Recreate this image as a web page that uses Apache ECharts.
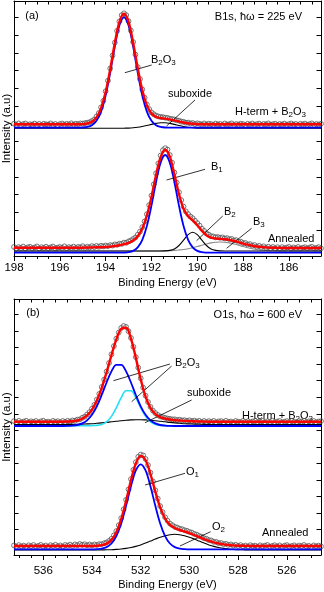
<!DOCTYPE html>
<html><head><meta charset="utf-8">
<script src="https://cdn.jsdelivr.net/npm/echarts@6/dist/echarts.min.js"></script>
<style>html,body{margin:0;padding:0;background:#fff}#c{width:324px;height:592px}</style>
</head><body><div id="c"></div>
<script>
// ---------- Panel (a): B1s, data grid (eV) ----------
const dataEA = [198.0,197.9,197.8,197.7,197.6,197.5,197.4,197.3,197.2,197.1,
197.0,196.9,196.8,196.7,196.6,196.5,196.4,196.3,196.2,196.1,
196.0,195.9,195.8,195.7,195.6,195.5,195.4,195.3,195.2,195.1,
195.0,194.9,194.8,194.7,194.6,194.5,194.4,194.3,194.2,194.1,
194.0,193.9,193.8,193.7,193.6,193.5,193.4,193.3,193.2,193.1,
193.0,192.9,192.8,192.7,192.6,192.5,192.4,192.3,192.2,192.1,
192.0,191.9,191.8,191.7,191.6,191.5,191.4,191.3,191.2,191.1,
191.0,190.9,190.8,190.7,190.6,190.5,190.4,190.3,190.2,190.1,
190.0,189.9,189.8,189.7,189.6,189.5,189.4,189.3,189.2,189.1,
189.0,188.9,188.8,188.7,188.6,188.5,188.4,188.3,188.2,188.1,
188.0,187.9,187.8,187.7,187.6,187.5,187.4,187.3,187.2,187.1,
187.0,186.9,186.8,186.7,186.6,186.5,186.4,186.3,186.2,186.1,
186.0,185.9,185.8,185.7,185.6,185.5,185.4,185.3,185.2,185.1,
185.0,184.9,184.8,184.7,184.6];
// H-term + B2O3 measured points
const aTopData = [132.3,131.2,132.6,131.0,131.9,132.5,130.9,131.8,131.4,132.4,
131.1,132.1,130.9,132.2,131.7,131.5,132.6,131.2,132.0,130.8,
131.9,132.5,131.3,132.2,131.6,132.7,131.4,132.3,131.8,132.6,
132.4,132.9,133.3,133.8,135.0,136.4,139.5,142.9,148.6,155.2,
164.8,175.3,187.6,200.5,213.4,225.1,234.6,240.8,242.7,240.9,
234.8,225.6,214.0,201.4,188.9,177.0,166.6,158.3,151.5,146.9,
143.6,141.8,140.4,139.6,139.0,138.9,138.3,138.1,137.3,137.0,
136.5,135.7,135.4,134.4,134.2,133.3,133.4,132.6,133.0,131.9,
132.7,132.2,131.5,132.6,131.4,132.3,131.9,131.2,132.4,131.6,
132.1,131.0,132.5,131.5,131.9,132.6,131.1,132.0,131.4,132.3,
131.8,130.9,132.2,131.6,132.5,131.2,131.9,132.4,131.0,132.1,
131.7,132.6,131.3,131.8,132.3,131.1,132.0,131.5,132.4,131.2,
131.9,132.5,131.4,132.1,130.9,132.2,131.6,132.4,131.3,131.8,
132.6,131.1,132.0,131.5,132.2];
// Annealed measured points
const aLowData = [9.1,7.4,8.9,8.0,9.4,7.6,8.7,9.2,7.8,8.5,
9.6,7.5,8.8,8.1,9.3,7.9,8.6,9.5,7.7,8.4,
9.0,8.2,9.7,7.8,8.9,8.3,9.4,8.0,9.1,8.6,
9.8,8.2,9.3,8.6,9.9,8.9,10.1,9.2,10.3,9.6,
10.5,9.8,10.9,10.4,11.6,11.2,12.3,12.1,13.4,13.2,
14.6,15.5,17.0,18.5,21.3,24.4,28.9,34.6,41.8,50.9,
60.4,71.6,82.7,92.6,100.5,105.9,107.8,106.4,101.0,93.3,
83.5,73.4,63.8,55.9,49.4,44.6,41.9,39.5,37.8,35.3,
32.9,30.4,27.3,25.1,22.6,21.4,19.8,19.6,18.7,19.0,
18.2,18.6,17.5,17.9,16.8,17.1,15.6,15.9,14.2,14.3,
12.9,13.0,11.5,11.9,10.4,11.0,9.3,10.2,8.8,9.7,
8.2,9.3,7.9,9.0,7.6,8.8,7.3,8.9,7.7,8.4,
9.1,7.5,8.6,7.9,9.0,7.4,8.3,8.8,7.6,8.5,
9.2,7.8,8.1,8.9,7.7];
// fit grid (eV)
const fitEA = [198.0,197.8,197.6,197.4,197.2,197.0,196.8,196.6,196.4,196.2,
196.0,195.8,195.6,195.4,195.2,195.0,194.8,194.6,194.4,194.2,
194.0,193.8,193.6,193.4,193.2,193.0,192.8,192.6,192.4,192.2,
192.0,191.8,191.6,191.4,191.2,191.0,190.8,190.6,190.4,190.2,
190.0,189.8,189.6,189.4,189.2,189.0,188.8,188.6,188.4,188.2,
188.0,187.8,187.6,187.4,187.2,187.0,186.8,186.6,186.4,186.2,
186.0,185.8,185.6,185.4,185.2,185.0,184.8,184.6];
const aTopFit = [131.7,131.7,131.7,131.7,131.7,131.7,131.7,131.7,131.7,131.7,
131.7,131.7,131.7,131.7,131.8,131.9,132.5,134.2,138.6,147.8,
163.9,186.9,212.8,233.9,242.2,234.1,213.3,187.9,165.7,150.6,
142.5,139.1,138.0,137.4,136.6,135.6,134.5,133.5,132.7,132.2,
131.9,131.8,131.7,131.7,131.7,131.7,131.7,131.7,131.7,131.7,
131.7,131.7,131.7,131.7,131.7,131.7,131.7,131.7,131.7,131.7,
131.7,131.7,131.7,131.7,131.7,131.7,131.7,131.7];
const aTopB2O3 = [128.3,128.3,128.3,128.3,128.3,128.3,128.3,128.3,128.3,128.3,
128.3,128.3,128.3,128.3,128.4,128.5,129.1,130.8,135.2,144.4,
160.5,183.5,209.4,230.5,238.7,230.5,209.4,183.5,160.5,144.4,
135.2,130.8,129.1,128.5,128.4,128.3,128.3,128.3,128.3,128.3,
128.3,128.3,128.3,128.3,128.3,128.3,128.3,128.3,128.3,128.3,
128.3,128.3,128.3,128.3,128.3,128.3,128.3,128.3,128.3,128.3,
128.3,128.3,128.3,128.3,128.3,128.3,128.3,128.3];
const aTopSub = [127.7,127.7,127.7,127.7,127.7,127.7,127.7,127.7,127.7,127.7,
127.7,127.7,127.7,127.7,127.7,127.7,127.7,127.7,127.7,127.7,
127.7,127.7,127.7,127.7,127.8,127.9,128.2,128.7,129.5,130.5,
131.6,132.6,133.2,133.2,132.6,131.6,130.5,129.5,128.7,128.2,
127.9,127.8,127.7,127.7,127.7,127.7,127.7,127.7,127.7,127.7,
127.7,127.7,127.7,127.7,127.7,127.7,127.7,127.7,127.7,127.7,
127.7,127.7,127.7,127.7,127.7,127.7,127.7,127.7];
const aLowFit = [8.3,8.3,8.3,8.3,8.3,8.3,8.3,8.3,8.3,8.3,
8.3,8.3,8.3,8.3,8.3,8.3,8.5,8.6,8.7,8.8,
9.0,9.4,10.0,10.8,11.8,13.2,15.5,19.8,27.5,40.5,
59.0,81.0,98.8,106.3,99.3,81.7,61.9,47.3,39.8,35.6,
30.8,25.3,20.8,18.3,17.5,17.2,16.8,16.1,15.0,13.8,
12.5,11.3,10.3,9.5,9.0,8.6,8.3,8.2,8.1,8.0,
8.0,8.0,8.0,8.0,8.0,8.0,8.0,8.0];
const aLowB1 = [3.3,3.3,3.3,3.3,3.3,3.3,3.3,3.3,3.3,3.3,
3.3,3.3,3.3,3.3,3.3,3.3,3.3,3.3,3.3,3.3,
3.3,3.3,3.3,3.3,3.4,3.8,5.1,8.6,16.2,30.0,
50.4,74.0,93.4,101.0,93.4,74.0,50.4,30.0,16.2,8.6,
5.1,3.8,3.4,3.3,3.3,3.3,3.3,3.3,3.3,3.3,
3.3,3.3,3.3,3.3,3.3,3.3,3.3,3.3,3.3,3.3,
3.3,3.3,3.3,3.3,3.3,3.3,3.3,3.3];
const aLowB2 = [5.0,5.0,5.0,5.0,5.0,5.0,5.0,5.0,5.0,5.0,
5.0,5.0,5.0,5.0,5.0,5.0,5.0,5.0,5.0,5.0,
5.0,5.0,5.0,5.0,5.0,5.0,5.0,5.0,5.0,5.0,
5.0,5.0,5.0,5.1,5.6,7.1,10.5,15.8,21.3,23.7,
21.3,15.8,10.5,7.1,5.6,5.1,5.0,5.0,5.0,5.0,
5.0,5.0,5.0,5.0,5.0,5.0,5.0,5.0,5.0,5.0,
5.0,5.0,5.0,5.0,5.0,5.0,5.0,5.0];
const aLowB3 = [5.0,5.0,5.0,5.0,5.0,5.0,5.0,5.0,5.0,5.0,
5.0,5.0,5.0,5.0,5.0,5.0,5.0,5.0,5.0,5.0,
5.0,5.0,5.0,5.0,5.0,5.0,5.0,5.0,5.0,5.0,
5.0,5.0,5.1,5.2,5.3,5.6,6.0,6.5,7.3,8.3,
9.5,10.8,12.0,13.1,13.8,14.0,13.8,13.1,12.0,10.8,
9.5,8.3,7.3,6.5,6.0,5.6,5.3,5.2,5.1,5.0,
5.0,5.0,5.0,5.0,5.0,5.0,5.0,5.0];

// ---------- Panel (b): O1s ----------
const dataEB = [537.2,537.1,537.0,536.9,536.8,536.7,536.6,536.5,536.4,536.3,
536.2,536.1,536.0,535.9,535.8,535.7,535.6,535.5,535.4,535.3,
535.2,535.1,535.0,534.9,534.8,534.7,534.6,534.5,534.4,534.3,
534.2,534.1,534.0,533.9,533.8,533.7,533.6,533.5,533.4,533.3,
533.2,533.1,533.0,532.9,532.8,532.7,532.6,532.5,532.4,532.3,
532.2,532.1,532.0,531.9,531.8,531.7,531.6,531.5,531.4,531.3,
531.2,531.1,531.0,530.9,530.8,530.7,530.6,530.5,530.4,530.3,
530.2,530.1,530.0,529.9,529.8,529.7,529.6,529.5,529.4,529.3,
529.2,529.1,529.0,528.9,528.8,528.7,528.6,528.5,528.4,528.3,
528.2,528.1,528.0,527.9,527.8,527.7,527.6,527.5,527.4,527.3,
527.2,527.1,527.0,526.9,526.8,526.7,526.6,526.5,526.4,526.3,
526.2,526.1,526.0,525.9,525.8,525.7,525.6,525.5,525.4,525.3,
525.2,525.1,525.0,524.9,524.8,524.7,524.6];
const bTopData = [133.9,132.8,134.1,132.6,133.5,134.2,132.7,133.7,133.1,134.0,
132.5,133.6,134.3,132.9,133.4,132.6,134.1,133.2,133.8,132.7,
134.0,133.1,134.2,133.4,134.6,134.3,135.4,135.6,137.2,138.3,
140.5,142.9,146.3,150.2,155.4,161.1,168.0,175.4,183.5,192.0,
200.7,208.9,216.4,222.5,227.0,229.0,228.1,223.8,217.1,208.2,
197.9,187.3,176.7,167.4,159.3,153.0,148.1,144.4,141.9,140.1,
138.6,137.9,137.2,136.5,136.2,135.6,135.7,135.0,135.3,134.6,
134.8,134.2,134.7,133.9,134.4,133.5,134.2,133.1,134.0,132.9,
133.9,133.2,134.1,132.7,133.6,133.9,132.8,134.2,133.0,133.5,
132.6,134.0,133.3,132.8,134.1,133.2,133.8,132.7,133.6,134.2,
132.9,133.4,134.0,132.6,133.7,133.1,134.3,132.8,133.5,134.0,
132.7,133.3,133.9,132.9,134.1,133.2,132.6,133.8,133.4,134.2,
132.8,133.6,133.1,134.0,132.7,133.5,133.9];
const bLowData = [9.6,8.3,9.9,8.6,9.4,8.1,9.7,8.8,10.0,8.4,
9.2,10.1,8.5,9.5,8.2,9.8,9.0,10.2,8.7,9.6,
8.4,10.0,9.3,10.4,9.1,10.6,9.8,11.0,10.2,10.8,
9.7,10.5,9.6,10.6,10.0,10.9,10.8,11.8,12.5,14.1,
16.2,19.6,23.9,29.8,36.9,45.7,55.2,65.6,75.9,85.2,
92.8,98.2,100.4,99.6,96.0,89.9,82.3,73.6,64.7,56.4,
48.9,42.9,37.8,34.3,31.4,29.8,28.2,27.4,26.3,25.8,
24.8,24.2,23.0,22.4,21.1,20.4,19.0,18.3,16.8,16.2,
14.9,14.5,13.2,13.1,11.9,12.0,10.8,11.2,10.1,10.6,
9.5,10.2,9.1,9.9,8.6,9.5,8.4,9.8,8.9,9.3,
8.2,9.7,8.6,9.4,10.0,8.3,9.1,9.8,8.5,9.6,
8.1,9.3,9.9,8.4,9.0,9.7,8.3,9.5,8.8,10.0,
8.6,9.2,8.0,9.6,8.7,9.4,8.5];
const fitEB = [537.2,537.0,536.8,536.6,536.4,536.2,536.0,535.8,535.6,535.4,
535.2,535.0,534.8,534.6,534.4,534.2,534.0,533.8,533.6,533.4,
533.2,533.0,532.8,532.6,532.4,532.2,532.0,531.8,531.6,531.4,
531.2,531.0,530.8,530.6,530.4,530.2,530.0,529.8,529.6,529.4,
529.2,529.0,528.8,528.6,528.4,528.2,528.0,527.8,527.6,527.4,
527.2,527.0,526.8,526.6,526.4,526.2,526.0,525.8,525.6,525.4,
525.2,525.0,524.8,524.6];
const bTopFit = [133.3,133.3,133.3,133.3,133.3,133.3,133.3,133.3,133.3,133.3,
133.3,133.5,133.8,134.5,136.3,139.6,145.4,154.5,167.2,182.7,
199.9,215.6,226.2,227.2,216.4,197.1,175.8,158.4,147.1,141.0,
137.8,136.5,135.5,134.9,134.5,134.1,133.9,133.7,133.5,133.4,
133.3,133.3,133.3,133.3,133.3,133.3,133.3,133.3,133.3,133.3,
133.3,133.3,133.3,133.3,133.3,133.3,133.3,133.3,133.3,133.3,
133.3,133.3,133.3,133.3];
const bTopB2O3a = [129.0,129.0,129.0,129.0,129.0,129.0,129.0,129.0,129.0,129.0,
129.0,129.1,129.4,130.0,131.6,134.7,140.2,148.7,160.0,172.5,
183.6,190.1,190.1,183.6,172.5,160.0,148.7,140.2,134.7,131.6,
130.0,129.4,129.1,129.0,129.0,129.0,129.0,129.0,129.0,129.0,
129.0,129.0,129.0,129.0,129.0,129.0,129.0,129.0,129.0,129.0,
129.0,129.0,129.0,129.0,129.0,129.0,129.0,129.0,129.0,129.0,
129.0,129.0,129.0,129.0];
const bTopB2O3b = [129.3,129.3,129.3,129.3,129.3,129.3,129.3,129.3,129.3,129.3,
129.3,129.3,129.3,129.3,129.3,129.3,129.4,129.6,130.6,133.1,
138.6,147.3,157.3,164.3,164.3,157.3,147.3,138.6,133.1,130.6,
129.6,129.4,129.3,129.3,129.3,129.3,129.3,129.3,129.3,129.3,
129.3,129.3,129.3,129.3,129.3,129.3,129.3,129.3,129.3,129.3,
129.3,129.3,129.3,129.3,129.3,129.3,129.3,129.3,129.3,129.3,
129.3,129.3,129.3,129.3];
const bTopSub = [130.5,130.5,130.5,130.5,130.5,130.5,130.5,130.5,130.5,130.5,
130.5,130.6,130.6,130.7,130.9,131.1,131.3,131.7,132.1,132.6,
133.2,133.7,134.3,134.8,135.1,135.3,135.3,135.1,134.8,134.3,
133.7,133.2,132.6,132.1,131.7,131.3,131.1,130.9,130.7,130.6,
130.6,130.5,130.5,130.5,130.5,130.5,130.5,130.5,130.5,130.5,
130.5,130.5,130.5,130.5,130.5,130.5,130.5,130.5,130.5,130.5,
130.5,130.5,130.5,130.5];
const bLowFit = [9.0,9.0,9.0,9.0,9.0,9.0,9.0,9.0,9.0,9.0,
9.0,9.0,9.0,9.0,9.0,9.0,9.0,9.2,9.8,11.4,
15.1,22.8,35.8,54.1,74.6,91.5,99.1,94.8,81.0,63.4,
47.6,36.5,30.1,26.9,25.0,23.5,21.8,19.9,17.9,15.9,
14.1,12.6,11.5,10.6,10.0,9.6,9.3,9.2,9.1,9.0,
9.0,9.0,9.0,9.0,9.0,9.0,9.0,9.0,9.0,9.0,
9.0,9.0,9.0,9.0];
const bLowO1 = [5.7,5.7,5.7,5.7,5.7,5.7,5.7,5.7,5.7,5.7,
5.7,5.7,5.7,5.7,5.7,5.7,5.7,5.9,6.4,7.9,
11.5,18.9,31.5,49.2,68.8,84.6,90.7,84.6,68.8,49.2,
31.5,18.9,11.5,7.9,6.4,5.9,5.7,5.7,5.7,5.7,
5.7,5.7,5.7,5.7,5.7,5.7,5.7,5.7,5.7,5.7,
5.7,5.7,5.7,5.7,5.7,5.7,5.7,5.7,5.7,5.7,
5.7,5.7,5.7,5.7];
const bLowO2 = [5.0,5.0,5.0,5.0,5.0,5.0,5.0,5.0,5.0,5.0,
5.0,5.0,5.0,5.0,5.0,5.0,5.0,5.0,5.1,5.2,
5.3,5.6,6.0,6.6,7.5,8.6,10.1,11.9,13.9,15.9,
17.8,19.3,20.3,20.7,20.3,19.3,17.8,15.9,13.9,11.9,
10.1,8.6,7.5,6.6,6.0,5.6,5.3,5.2,5.1,5.0,
5.0,5.0,5.0,5.0,5.0,5.0,5.0,5.0,5.0,5.0,
5.0,5.0,5.0,5.0];

// ---------- tick values ----------
const xMajorA = [198,196,194,192,190,188,186];
const xMinorA = [198,197.5,197,196.5,196,195.5,195,194.5,194,193.5,193,192.5,192,191.5,191,190.5,190,189.5,189,188.5,188,187.5,187,186.5,186,185.5,185];
const xMajorB = [536,534,532,530,528,526];
const xMinorB = [537,536.5,536,535.5,535,534.5,534,533.5,533,532.5,532,531.5,531,530.5,530,529.5,529,528.5,528,527.5,527,526.5,526,525.5,525];
const yTicksA = [8.2,25.9,43.7,61.4,79.1,96.9,114.6,132.3,150.0,167.8,185.5,203.2,221.0,238.7];
const yTicksB = [8.8,25.4,41.9,58.5,75.0,91.6,108.1,124.7,141.2,157.8,174.3,190.9,207.4,224.0,240.5];

const FONT = '"Liberation Sans", Arial, Helvetica, sans-serif';
const pair = (xs, ys) => xs.map((x, i) => [x, ys[i]]);

function xAxes(g, min, max, major, minor, margin, nameGap) {
  return [
    {type:'value', gridIndex:g, min:min, max:max, inverse:true, position:'bottom',
     axisLine:{show:true, onZero:false, lineStyle:{color:'#000', width:1}},
     axisTick:{show:true, inside:false, length:5, customValues:major, lineStyle:{color:'#000', width:1}},
     axisLabel:{show:true, customValues:major, margin:margin, fontSize:11.5, color:'#000', fontFamily:FONT},
     splitLine:{show:false},
     name:'Binding Energy (eV)', nameLocation:'middle', nameGap:nameGap,
     nameTextStyle:{fontSize:11, color:'#000', fontFamily:FONT}},
    {type:'value', gridIndex:g, min:min, max:max, inverse:true, position:'bottom',
     axisLine:{show:false, onZero:false},
     axisTick:{show:true, inside:false, length:3, customValues:minor, lineStyle:{color:'#000', width:1}},
     axisLabel:{show:false}, splitLine:{show:false}},
    {type:'value', gridIndex:g, min:min, max:max, inverse:true, position:'top',
     axisLine:{show:true, onZero:false, lineStyle:{color:'#000', width:1}},
     axisTick:{show:true, inside:true, length:3.5, customValues:minor, lineStyle:{color:'#000', width:1}},
     axisLabel:{show:false}, splitLine:{show:false}}
  ];
}
function yAxes(g, max, ticks) {
  const base = (pos) => ({type:'value', gridIndex:g, min:0, max:max, position:pos,
     axisLine:{show:true, onZero:false, lineStyle:{color:'#000', width:1}},
     axisTick:{show:true, inside:true, length:4.5, customValues:ticks, lineStyle:{color:'#000', width:1}},
     axisLabel:{show:false}, splitLine:{show:false}});
  return [base('left'), base('right')];
}
function dots(xi, yi, xs, ys, leaders) {
  return {type:'scatter', xAxisIndex:xi, yAxisIndex:yi, data:pair(xs, ys), symbol:'circle', symbolSize:4.8,
    itemStyle:{color:'rgba(255,255,255,0)', borderColor:'#555555', borderWidth:1}, z:2, silent:true,
    markLine:{silent:true, symbol:['none','none'], label:{show:false}, animation:false,
      lineStyle:{color:'#000', width:0.8, type:'solid'},
      emphasis:{disabled:true},
      data:leaders.map(l => [{coord:l[0]}, {coord:l[1]}])}};
}
function curve(xi, yi, xs, ys, color, width, z) {
  return {type:'line', xAxisIndex:xi, yAxisIndex:yi, data:pair(xs, ys), showSymbol:false, symbol:'none',
    smooth:0.35, lineStyle:{color:color, width:width}, z:z, silent:true};
}
const RED = '#ff0000', BLUE = '#0000ff', CYAN = '#22e0f5', BLK = '#000000', GRAY = '#8a8a8a';

function txt(x, y, text, align) {
  return {type:'text', x:x, y:y, silent:true, style:{text:text, fontSize:11, fontFamily:FONT, fill:'#000',
    align:align || 'left', verticalAlign:'middle', lineHeight:14,
    rich:{s:{fontSize:8, fontFamily:FONT, lineHeight:8, verticalAlign:'bottom', fill:'#000'}}}};
}

const option = {
  animation:false,
  backgroundColor:'#ffffff',
  textStyle:{fontFamily:FONT},
  grid:[{left:14, top:1, width:307, height:255}, {left:14, top:299, width:307, height:256}],
  xAxis:[].concat(xAxes(0, 184.6, 198, xMajorA, xMinorA, 6, 21), xAxes(1, 524.6, 537.2, xMajorB, xMinorB, 10, 24)),
  yAxis:[].concat(yAxes(0, 255, yTicksA), yAxes(1, 256, yTicksB)),
  series:[
    // panel (a)
    dots(0, 0, dataEA, aTopData, [
      [[193.16,183.3],[191.99,191]],
      [[191.34,130],[190.1,156]]]),
    dots(0, 0, dataEA, aLowData, [
      [[191.34,76],[189.66,86.7]],
      [[190.03,15.3],[188.89,40]],
      [[188.72,7.7],[187.63,27.7]]]),
    curve(0, 0, fitEA, aTopSub, BLK, 1.1, 3),
    curve(0, 0, fitEA, aTopB2O3, BLUE, 1.8, 4),
    curve(0, 0, fitEA, aTopFit, RED, 2.4, 5),
    curve(0, 0, fitEA, aLowB3, GRAY, 1.1, 3),
    curve(0, 0, fitEA, aLowB2, BLK, 1.1, 3),
    curve(0, 0, fitEA, aLowB1, BLUE, 1.8, 4),
    curve(0, 0, fitEA, aLowFit, RED, 2.4, 5),
    // panel (b)
    dots(3, 2, dataEB, bTopData, [
      [[533.12,174.3],[530.80,191]],
      [[532.37,153.3],[530.73,189]],
      [[531.82,132.3],[529.91,155]]]),
    dots(3, 2, dataEB, bLowData, [
      [[531.82,70],[530.18,81.7]],
      [[530.39,9],[529.13,23.3]]]),
    curve(3, 2, fitEB, bTopSub, BLK, 1.1, 3),
    curve(3, 2, fitEB, bTopB2O3b, CYAN, 1.6, 3),
    curve(3, 2, fitEB, bTopB2O3a, BLUE, 1.8, 4),
    curve(3, 2, fitEB, bTopFit, RED, 2.4, 5),
    curve(3, 2, fitEB, bLowO2, BLK, 1.1, 3),
    curve(3, 2, fitEB, bLowO1, BLUE, 1.8, 4),
    curve(3, 2, fitEB, bLowFit, RED, 2.4, 5)
  ],
  graphic:{elements:[
    txt(32, 16, '(a)', 'center'),
    txt(302, 17, 'B1s, ħω = 225 eV', 'right'),
    txt(151, 60, 'B{s|2}O{s|3}'),
    txt(168, 94, 'suboxide'),
    txt(235, 112, 'H-term + B{s|2}O{s|3}'),
    txt(211, 167, 'B{s|1}'),
    txt(224, 212, 'B{s|2}'),
    txt(253, 222, 'B{s|3}'),
    txt(268, 239, 'Annealed'),
    txt(33, 313, '(b)', 'center'),
    txt(302, 315, 'O1s, ħω = 600 eV', 'right'),
    txt(175, 363, 'B{s|2}O{s|3}'),
    txt(187, 393, 'suboxide'),
    txt(242, 415.5, 'H-term + B{s|2}O{s|3}'),
    txt(186, 472, 'O{s|1}'),
    txt(212, 527, 'O{s|2}'),
    txt(262, 533, 'Annealed'),
    {type:'text', x:7, y:128.5, rotation:Math.PI/2, silent:true,
     style:{text:'Intensity (a.u)', fontSize:11.5, fontFamily:FONT, fill:'#000', align:'center', verticalAlign:'middle'}},
    {type:'text', x:7, y:427, rotation:Math.PI/2, silent:true,
     style:{text:'Intensity (a.u)', fontSize:11.5, fontFamily:FONT, fill:'#000', align:'center', verticalAlign:'middle'}}
  ]}
};
const chart = echarts.init(document.getElementById('c'), null, {renderer:'canvas', width:324, height:592});
chart.setOption(option);
</script>
</body></html>
